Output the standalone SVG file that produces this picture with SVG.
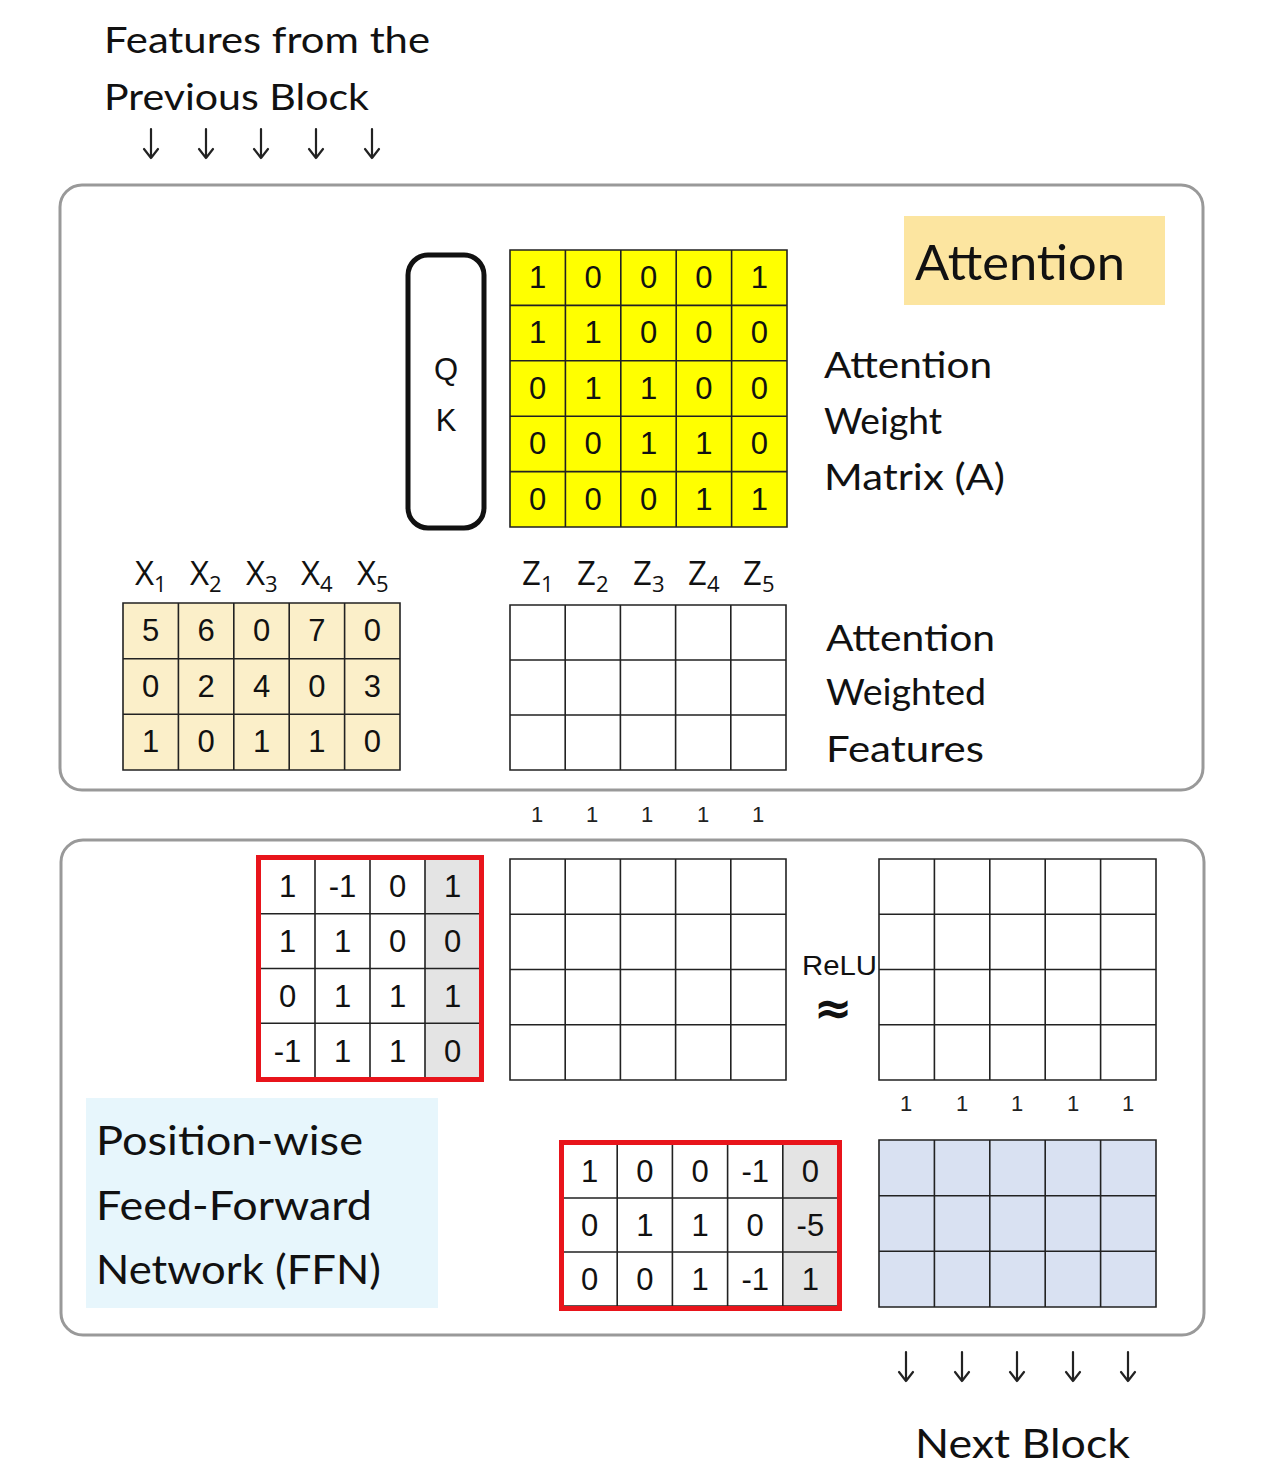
<svg xmlns="http://www.w3.org/2000/svg" width="1269" height="1465" viewBox="0 0 1269 1465">
<defs>
<style>
.hand{font-family:"Lato","Noto Sans","DejaVu Sans",sans-serif;fill:#111;}
.num{font-family:"Liberation Sans","Open Sans",sans-serif;font-size:31px;fill:#111;text-anchor:middle;}
.small{font-family:"Liberation Sans",sans-serif;font-size:22px;fill:#222;text-anchor:middle;}
.panel{fill:#fff;stroke:#999;stroke-width:3;}
.grid{fill:none;stroke:#222;stroke-width:1.6;}
.arrow{stroke:#222;stroke-width:2.2;fill:none;stroke-linecap:round;stroke-linejoin:round;}
.lab{font-family:"Open Sans","Liberation Sans",sans-serif;font-size:33px;fill:#111;}
.sub{font-size:22px;}
</style>
</defs>
<rect width="1269" height="1465" fill="#fff"/>

<g id="title-in">
<text class="hand" x="104" y="53" font-size="36" textLength="326" lengthAdjust="spacingAndGlyphs">Features from the</text>
<text class="hand" x="104" y="110" font-size="36" textLength="265" lengthAdjust="spacingAndGlyphs">Previous Block</text>
</g>

<g id="panel-attention">
<rect class="panel" x="60" y="185" width="1143" height="605" rx="22"/>
</g>
<g id="panel-ffn">
<rect class="panel" x="61" y="840" width="1143" height="495" rx="22"/>
</g>

<g id="attention-label">
<rect x="904" y="216" width="261" height="89" fill="#FCE5A0"/>
<text class="hand" x="915" y="280" font-size="48" textLength="210" lengthAdjust="spacingAndGlyphs">Attention</text>
</g>

<g id="qk">
<rect x="408" y="255" width="76" height="273" rx="20" fill="#fff" stroke="#111" stroke-width="5"/>
<text class="num" x="446" y="380" font-size="33">Q</text>
<text class="num" x="446" y="431" font-size="33">K</text>
</g>

<g id="attention-matrix">
<rect x="510" y="250" width="277" height="277" fill="#FFFF00"/>
<path class="grid" d="M510 250H787V527H510Z M565.4 250V527 M620.8 250V527 M676.2 250V527 M731.6 250V527 M510 305.4H787 M510 360.8H787 M510 416.2H787 M510 471.6H787"/>
<g>
<text class="num" x="537.7" y="288">1</text><text class="num" x="593.1" y="288">0</text><text class="num" x="648.5" y="288">0</text><text class="num" x="703.9" y="288">0</text><text class="num" x="759.3" y="288">1</text>
<text class="num" x="537.7" y="343">1</text><text class="num" x="593.1" y="343">1</text><text class="num" x="648.5" y="343">0</text><text class="num" x="703.9" y="343">0</text><text class="num" x="759.3" y="343">0</text>
<text class="num" x="537.7" y="399">0</text><text class="num" x="593.1" y="399">1</text><text class="num" x="648.5" y="399">1</text><text class="num" x="703.9" y="399">0</text><text class="num" x="759.3" y="399">0</text>
<text class="num" x="537.7" y="454">0</text><text class="num" x="593.1" y="454">0</text><text class="num" x="648.5" y="454">1</text><text class="num" x="703.9" y="454">1</text><text class="num" x="759.3" y="454">0</text>
<text class="num" x="537.7" y="510">0</text><text class="num" x="593.1" y="510">0</text><text class="num" x="648.5" y="510">0</text><text class="num" x="703.9" y="510">1</text><text class="num" x="759.3" y="510">1</text>
</g>
</g>

<g id="attention-weight-label">
<text class="hand" x="824" y="378" font-size="36" textLength="168" lengthAdjust="spacingAndGlyphs">Attention</text>
<text class="hand" x="824" y="434" font-size="36" textLength="118" lengthAdjust="spacingAndGlyphs">Weight</text>
<text class="hand" x="824" y="490" font-size="36" textLength="181" lengthAdjust="spacingAndGlyphs">Matrix (A)</text>
</g>

<g id="x-labels">
<text class="lab" x="135" y="585">X<tspan class="sub" dy="7">1</tspan></text>
<text class="lab" x="190" y="585">X<tspan class="sub" dy="7">2</tspan></text>
<text class="lab" x="246" y="585">X<tspan class="sub" dy="7">3</tspan></text>
<text class="lab" x="301" y="585">X<tspan class="sub" dy="7">4</tspan></text>
<text class="lab" x="357" y="585">X<tspan class="sub" dy="7">5</tspan></text>
</g>

<g id="x-matrix">
<rect x="123" y="603" width="277" height="167" fill="#FBEFC9"/>
<path class="grid" d="M123 603H400V770H123Z M178.4 603V770 M233.8 603V770 M289.2 603V770 M344.6 603V770 M123 658.7H400 M123 714.3H400"/>
<text class="num" x="150.7" y="641">5</text><text class="num" x="206.1" y="641">6</text><text class="num" x="261.5" y="641">0</text><text class="num" x="316.9" y="641">7</text><text class="num" x="372.3" y="641">0</text>
<text class="num" x="150.7" y="697">0</text><text class="num" x="206.1" y="697">2</text><text class="num" x="261.5" y="697">4</text><text class="num" x="316.9" y="697">0</text><text class="num" x="372.3" y="697">3</text>
<text class="num" x="150.7" y="752">1</text><text class="num" x="206.1" y="752">0</text><text class="num" x="261.5" y="752">1</text><text class="num" x="316.9" y="752">1</text><text class="num" x="372.3" y="752">0</text>
</g>

<g id="z-labels">
<text class="lab" x="522" y="585">Z<tspan class="sub" dy="7">1</tspan></text>
<text class="lab" x="577" y="585">Z<tspan class="sub" dy="7">2</tspan></text>
<text class="lab" x="633" y="585">Z<tspan class="sub" dy="7">3</tspan></text>
<text class="lab" x="688" y="585">Z<tspan class="sub" dy="7">4</tspan></text>
<text class="lab" x="743" y="585">Z<tspan class="sub" dy="7">5</tspan></text>
</g>

<g id="z-matrix">
<rect x="510" y="605" width="276" height="165" fill="#fff"/>
<path class="grid" d="M510 605H786V770H510Z M565.2 605V770 M620.4 605V770 M675.6 605V770 M730.8 605V770 M510 660H786 M510 715H786"/>
</g>

<g id="attention-weighted-label">
<text class="hand" x="826" y="651" font-size="36" textLength="169" lengthAdjust="spacingAndGlyphs">Attention</text>
<text class="hand" x="826" y="705" font-size="36" textLength="160" lengthAdjust="spacingAndGlyphs">Weighted</text>
<text class="hand" x="826" y="762" font-size="36" textLength="158" lengthAdjust="spacingAndGlyphs">Features</text>
</g>

<g id="ones-row-1">
<text class="small" x="537" y="822">1</text><text class="small" x="592" y="822">1</text><text class="small" x="647" y="822">1</text><text class="small" x="703" y="822">1</text><text class="small" x="758" y="822">1</text>
</g>

<g id="w1-matrix">
<rect x="425" y="859" width="55" height="219" fill="#E4E4E4"/>
<path class="grid" d="M260 859H480V1078H260Z M315 859V1078 M370 859V1078 M425 859V1078 M260 913.75H480 M260 968.5H480 M260 1023.25H480"/>
<rect x="258.5" y="857.5" width="223" height="222" fill="none" stroke="#E8141B" stroke-width="5"/>
<text class="num" x="287.5" y="897">1</text><text class="num" x="342.5" y="897">-1</text><text class="num" x="397.5" y="897">0</text><text class="num" x="452.5" y="897">1</text>
<text class="num" x="287.5" y="952">1</text><text class="num" x="342.5" y="952">1</text><text class="num" x="397.5" y="952">0</text><text class="num" x="452.5" y="952">0</text>
<text class="num" x="287.5" y="1007">0</text><text class="num" x="342.5" y="1007">1</text><text class="num" x="397.5" y="1007">1</text><text class="num" x="452.5" y="1007">1</text>
<text class="num" x="287.5" y="1062">-1</text><text class="num" x="342.5" y="1062">1</text><text class="num" x="397.5" y="1062">1</text><text class="num" x="452.5" y="1062">0</text>
</g>

<g id="hidden-matrix">
<path class="grid" d="M510 859H786V1080H510Z M565.2 859V1080 M620.4 859V1080 M675.6 859V1080 M730.8 859V1080 M510 914.25H786 M510 969.5H786 M510 1024.75H786"/>
</g>

<g id="relu">
<text x="802" y="975" font-family="Liberation Sans, sans-serif" font-size="28" fill="#111" textLength="75" lengthAdjust="spacingAndGlyphs">ReLU</text>
<text x="833" y="1024" font-family="DejaVu Sans, sans-serif" font-size="46" font-weight="bold" fill="#111" text-anchor="middle">≈</text>
</g>

<g id="relu-matrix">
<path class="grid" d="M879 859H1156V1080H879Z M934.4 859V1080 M989.8 859V1080 M1045.2 859V1080 M1100.6 859V1080 M879 914.25H1156 M879 969.5H1156 M879 1024.75H1156"/>
</g>

<g id="ones-row-2">
<text class="small" x="906" y="1111">1</text><text class="small" x="962" y="1111">1</text><text class="small" x="1017" y="1111">1</text><text class="small" x="1073" y="1111">1</text><text class="small" x="1128" y="1111">1</text>
</g>

<g id="ffn-label">
<rect x="86" y="1098" width="352" height="210" fill="#E7F6FC"/>
<text class="hand" x="96" y="1155" font-size="40" textLength="267" lengthAdjust="spacingAndGlyphs">Position-wise</text>
<text class="hand" x="96" y="1220" font-size="40" textLength="276" lengthAdjust="spacingAndGlyphs">Feed-Forward</text>
<text class="hand" x="96" y="1284" font-size="40" textLength="285" lengthAdjust="spacingAndGlyphs">Network (FFN)</text>
</g>

<g id="w2-matrix">
<rect x="782.8" y="1144" width="55.2" height="162" fill="#E4E4E4"/>
<path class="grid" d="M562 1144H838V1306H562Z M617.2 1144V1306 M672.4 1144V1306 M727.6 1144V1306 M782.8 1144V1306 M562 1198H838 M562 1252H838"/>
<rect x="561.5" y="1142.5" width="278" height="166" fill="none" stroke="#E8141B" stroke-width="5"/>
<text class="num" x="589.6" y="1182">1</text><text class="num" x="644.8" y="1182">0</text><text class="num" x="700" y="1182">0</text><text class="num" x="755.2" y="1182">-1</text><text class="num" x="810.4" y="1182">0</text>
<text class="num" x="589.6" y="1236">0</text><text class="num" x="644.8" y="1236">1</text><text class="num" x="700" y="1236">1</text><text class="num" x="755.2" y="1236">0</text><text class="num" x="810.4" y="1236">-5</text>
<text class="num" x="589.6" y="1290">0</text><text class="num" x="644.8" y="1290">0</text><text class="num" x="700" y="1290">1</text><text class="num" x="755.2" y="1290">-1</text><text class="num" x="810.4" y="1290">1</text>
</g>

<g id="output-matrix">
<rect x="879" y="1140" width="277" height="167" fill="#D9E1F2"/>
<path class="grid" d="M879 1140H1156V1307H879Z M934.4 1140V1307 M989.8 1140V1307 M1045.2 1140V1307 M1100.6 1140V1307 M879 1195.7H1156 M879 1251.3H1156"/>
</g>

<g id="title-out">
<text class="hand" x="915" y="1458" font-size="40" textLength="215" lengthAdjust="spacingAndGlyphs">Next Block</text>
</g>

<g id="connectors">
<path class="arrow" d="M151 129V158 M144 149L151 158L158 149"/>
<path class="arrow" d="M206 129V158 M199 149L206 158L213 149"/>
<path class="arrow" d="M261 129V158 M254 149L261 158L268 149"/>
<path class="arrow" d="M316 129V158 M309 149L316 158L323 149"/>
<path class="arrow" d="M372 129V158 M365 149L372 158L379 149"/>
<path class="arrow" d="M906 1352V1381 M899 1372L906 1381L913 1372"/>
<path class="arrow" d="M962 1352V1381 M955 1372L962 1381L969 1372"/>
<path class="arrow" d="M1017 1352V1381 M1010 1372L1017 1381L1024 1372"/>
<path class="arrow" d="M1073 1352V1381 M1066 1372L1073 1381L1080 1372"/>
<path class="arrow" d="M1128 1352V1381 M1121 1372L1128 1381L1135 1372"/>
</g>
</svg>
